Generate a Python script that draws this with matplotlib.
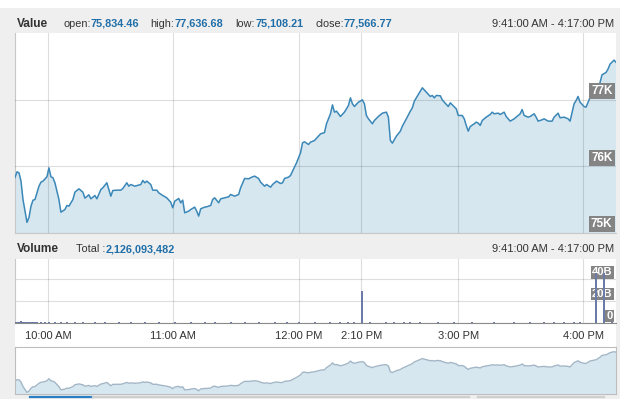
import matplotlib
matplotlib.use("Agg")
import matplotlib.pyplot as plt
import matplotlib.transforms as mtransforms
from matplotlib.patches import Rectangle
from matplotlib.lines import Line2D

plt.rcParams['font.family'] = ['Liberation Sans', 'DejaVu Sans']

# --- data (bar index on an ordinal trading-time axis, value) ---
bar_idx = [0, 1, 2, 3, 4, 6, 7, 8, 9, 10, 12, 13, 14, 16, 17, 18, 19, 20, 22, 23,
           25, 26, 27, 29, 30, 32, 34, 35, 37, 38, 40, 41, 43, 44, 46, 47, 48, 49, 51, 53,
           54, 56, 57, 58, 60, 63, 64, 65, 66, 68, 69, 71, 72, 74, 76, 78, 79, 80, 82, 83,
           84, 85, 87, 88, 90, 91, 92, 93, 95, 96, 98, 99, 100, 102, 103, 105, 107, 108, 110, 112,
           113, 115, 117, 119, 120, 122, 123, 125, 126, 128, 129, 131, 133, 134, 135, 137, 138, 139, 141, 143,
           144, 145, 147, 148, 150, 152, 153, 155, 156, 158, 159, 160, 161, 162, 163, 165, 167, 168, 169, 170,
           172, 174, 175, 176, 177, 179, 180, 182, 184, 186, 187, 188, 189, 191, 193, 194, 196, 198, 199, 200,
           202, 204, 206, 208, 209, 210, 211, 213, 214, 215, 217, 218, 219, 221, 222, 224, 225, 226, 227, 228,
           230, 231, 232, 233, 234, 236, 238, 239, 240, 242, 243, 245, 246, 248, 250, 251, 253, 254, 255, 257,
           258, 260, 261, 262, 264, 265, 267, 269, 270, 272, 273, 275, 277, 278, 280, 281, 282, 283, 285, 286,
           288, 290, 291, 293, 294, 296, 297, 298, 300, 301]
price = [75834, 75920, 75905, 75780, 75504, 75160, 75233, 75403, 75493, 75504, 75704, 75764, 75780, 75845, 75980, 75845, 75830, 75755, 75504, 75313,
         75353, 75414, 75403, 75504, 75614, 75664, 75614, 75524, 75574, 75514, 75564, 75514, 75654, 75680, 75755, 75654, 75554, 75639, 75644, 75644,
         75669, 75755, 75704, 75729, 75704, 75729, 75790, 75755, 75780, 75729, 75644, 75644, 75604, 75564, 75529, 75463, 75379, 75479, 75519, 75454,
         75494, 75304, 75329, 75353, 75389, 75329, 75254, 75364, 75389, 75394, 75414, 75504, 75529, 75454, 75514, 75529, 75544, 75579, 75554, 75579,
         75680, 75820, 75815, 75845, 75855, 75820, 75764, 75704, 75729, 75689, 75729, 75780, 75744, 75755, 75820, 75840, 75865, 75930, 76055, 76206,
         76356, 76371, 76331, 76366, 76391, 76456, 76490, 76510, 76642, 76792, 76927, 76817, 76832, 76792, 76752, 76817, 76917, 77032, 76942, 76902,
         76967, 77002, 76942, 76767, 76717, 76642, 76692, 76752, 76802, 76817, 76742, 76391, 76351, 76456, 76531, 76606, 76717, 76832, 76882, 76982,
         77083, 77183, 77118, 77053, 77068, 77032, 77068, 77063, 77002, 76967, 76902, 76957, 76927, 76867, 76767, 76767, 76717, 76617, 76531, 76602,
         76642, 76667, 76652, 76617, 76692, 76742, 76782, 76817, 76792, 76802, 76782, 76817, 76752, 76682, 76717, 76742, 76792, 76857, 76767, 76742,
         76752, 76792, 76742, 76682, 76702, 76717, 76682, 76682, 76742, 76802, 76732, 76742, 76717, 76682, 76942, 76992, 77053, 76967, 76902, 76892,
         77038, 77088, 77113, 77263, 77378, 77414, 77464, 77539, 77599, 77567]

vol_idx = [0, 1, 2, 3, 4, 5, 6, 7, 8, 9, 10, 11, 13, 15, 17, 20, 23, 26, 30, 34,
           40, 45, 52, 58, 65, 72, 80, 88, 95, 100, 108, 115, 122, 130, 136, 142, 150, 158, 163, 167,
           170, 174, 178, 186, 190, 195, 198, 203, 212, 220, 229, 240, 250, 258, 265, 270, 275, 280, 283, 291,
           295, 299]
vol_b = [1.0, 1.2, 1.0, 1.4, 1.1, 1.0, 0.9, 1.2, 1.0, 0.9, 1.1, 1.0, 1.3, 0.9, 1.0, 0.8, 0.9, 0.8, 0.9, 0.8,
         0.7, 0.8, 0.7, 0.8, 0.7, 0.7, 0.8, 0.7, 0.8, 0.7, 0.8, 0.7, 0.9, 0.8, 0.7, 0.8, 0.9, 0.8, 1.0, 0.9,
         1.0, 29.0, 1.0, 0.9, 1.0, 1.0, 0.9, 1.0, 0.8, 0.9, 0.8, 0.8, 0.8, 0.9, 0.8, 0.9, 0.8, 1.0, 1.0, 46.0,
         46.0, 1.2]

tick_pos = [16.5, 79, 142, 173.5, 222, 284.5]
tick_lab = ['10:00 AM', '11:00 AM', '12:00 PM', '2:10 PM', '3:00 PM', '4:00 PM']
val_ticks = [75000, 76000, 77000]
val_labs = ['75K', '76K', '77K']
vol_ticks = [0, 20, 40]
vol_labs = ['0', '20B', '40B']

W, H = 620, 399
fig = plt.figure(figsize=(W / 100, H / 100), dpi=100)
fig.patch.set_facecolor('white')


def fx(x):
    return x / W


def fy(y):
    return 1 - y / H


# panel background
fig.add_artist(Rectangle((0, 0), 1, fy(8), transform=fig.transFigure,
                         facecolor='#efefef', edgecolor='none', zorder=0))
fig.add_artist(Rectangle((fx(15), fy(347)), fx(601), (347 - 323) / H, transform=fig.transFigure,
                         facecolor='white', edgecolor='none', zorder=0))

line_c = '#3b88b8'
fill_c = '#d7e7f0'
grid_kw = dict(color='k', alpha=0.13, lw=0.8)

# value panel
ax = fig.add_axes([fx(15), fy(233), fx(601), 200 / H])
ax.fill_between(bar_idx, price, 70000, color=fill_c, lw=0, zorder=1)
ax.plot(bar_idx, price, color=line_c, lw=1.1, zorder=3)
ax.set_xlim(0, 301)
ax.set_ylim(75000, 78007)
ax.set_xticks(tick_pos)
ax.set_yticks(val_ticks)
ax.set_xticklabels([])
ax.set_yticklabels([])
ax.tick_params(length=0)
ax.set_axisbelow(False)
ax.grid(True, **grid_kw)
for s in ['top', 'right']:
    ax.spines[s].set_visible(False)
for s in ['left', 'bottom']:
    ax.spines[s].set_color('#c8c8c8')
    ax.spines[s].set_linewidth(0.8)
blend = mtransforms.blended_transform_factory(ax.transAxes, ax.transData)
for v, t in zip(val_ticks, val_labs):
    ax.annotate(t, xy=(1, v), xycoords=blend, xytext=(-2.5, 2), textcoords='offset points',
                ha='right', va='bottom', color='white', fontsize=8.5, fontweight='bold',
                bbox=dict(boxstyle='square,pad=0.18', fc='#848484', ec='none'), zorder=4)

# volume panel
axv = fig.add_axes([fx(15), fy(323), fx(601), 64 / H])
axv.bar(vol_idx, vol_b, width=1.0, color='#6a7ba8', lw=0, zorder=3)
axv.set_xlim(0, 301)
axv.set_ylim(0, 58.7)
axv.set_xticks(tick_pos)
axv.set_xticklabels(tick_lab, fontsize=8, color='#333333')
axv.set_yticks(vol_ticks)
axv.set_yticklabels([])
axv.tick_params(length=0)
axv.tick_params(axis='x', pad=6)
axv.grid(True, **grid_kw)
axv.set_axisbelow(True)
for s in ['top', 'right']:
    axv.spines[s].set_visible(False)
axv.spines['left'].set_color('#c8c8c8')
axv.spines['bottom'].set_color('#8a8a8a')
blendv = mtransforms.blended_transform_factory(axv.transAxes, axv.transData)
for v, t in zip(vol_ticks, vol_labs):
    axv.annotate(t, xy=(1, v), xycoords=blendv, xytext=(-2.5, 1.5), textcoords='offset points',
                 ha='right', va='bottom', color='white', fontsize=8, fontweight='bold',
                 bbox=dict(boxstyle='square,pad=0.12', fc='#848484', ec='none'), zorder=2)

# navigator
axn = fig.add_axes([fx(15), fy(394), fx(601), 47 / H])
axn.fill_between(bar_idx, price, 70000, color=fill_c, lw=0)
axn.plot(bar_idx, price, color='#a3b6c6', lw=1.0)
axn.set_xlim(0, 301)
axn.set_ylim(75060, 77880)
axn.set_xticks([])
axn.set_yticks([])
for s in axn.spines.values():
    s.set_color('#bdbdbd')
    s.set_linewidth(0.8)

# scrollbar
fig.add_artist(Line2D([fx(30), fx(93)], [fy(397), fy(397)], color='#2a7fc4', lw=1.6))
fig.add_artist(Line2D([fx(93), fx(469)], [fy(397), fy(397)], color='#cfcfcf', lw=1.6))
fig.add_artist(Line2D([fx(478), fx(604)], [fy(397), fy(397)], color='#cfcfcf', lw=1.6))

# headers
dark = '#333333'
blue = '#1f6ea8'


def hdr(x, y, s, c=dark, w='normal', ha='left', size=8):
    return fig.text(fx(x), fy(y), s, color=c, fontweight=w, ha=ha, va='center', fontsize=size)


def pair(x, y, lab, num):
    t = hdr(x, y, lab, size=7.8)
    fig.text(0, 0, '')
    plt.annotate(num, xy=(1, 0.5), xycoords=t, va='center', ha='left',
                 color=blue, fontweight='bold', fontsize=7.8, annotation_clip=False)


hdr(16.5, 24, 'Value', w='bold', size=8.6)
pair(63.3, 24, 'open:', '75,834.46')
pair(150.7, 24, 'high:', '77,636.68')
pair(235.7, 24, 'low:', '75,108.21')
pair(315, 24, 'close:', '77,566.77')
hdr(614, 24, '9:41:00 AM - 4:17:00 PM', ha='right')

hdr(16.5, 249, 'Volume', w='bold', size=8.6)
pair(76, 249, 'Total :', '2,126,093,482')
hdr(614, 249, '9:41:00 AM - 4:17:00 PM', ha='right')

fig.savefig('out.png', dpi=100)
